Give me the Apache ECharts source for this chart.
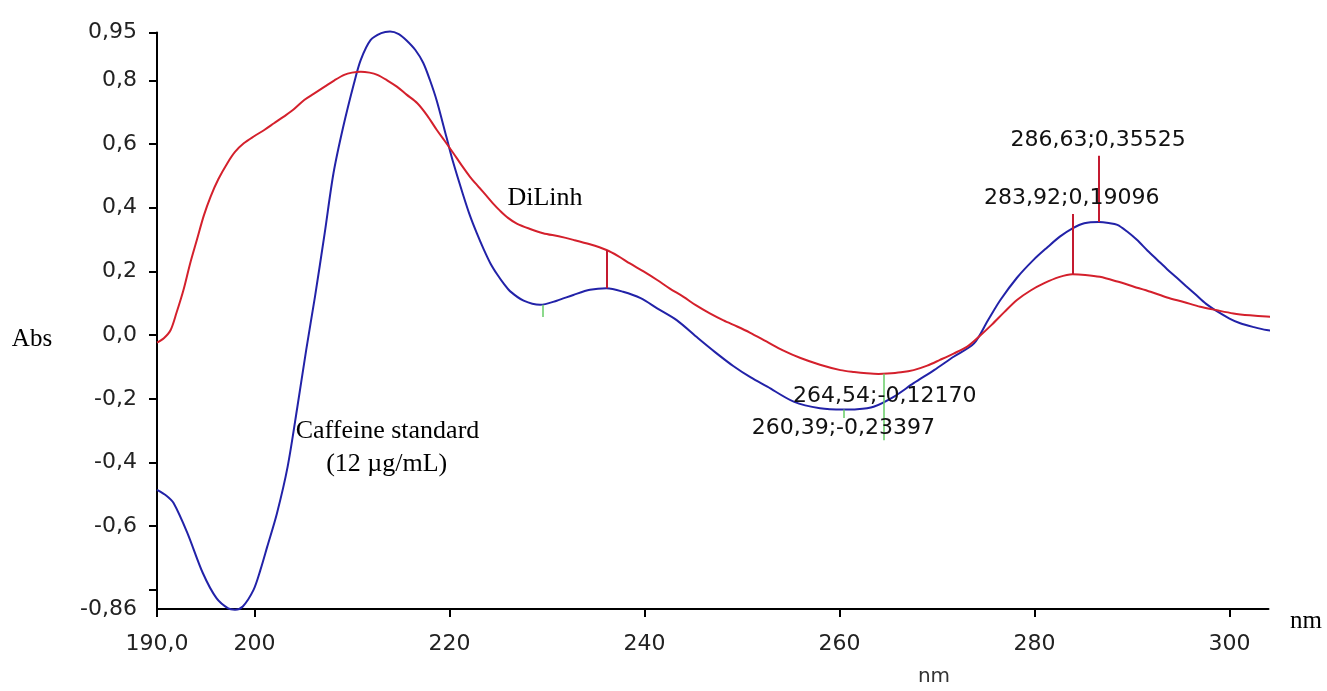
<!DOCTYPE html>
<html>
<head>
<meta charset="utf-8">
<script src="https://cdn.jsdelivr.net/npm/echarts@6/dist/echarts.min.js"></script>
<style>html,body{margin:0;padding:0;background:#fff}#c{width:1327px;height:691px}</style>
</head>
<body>
<div id="c"></div>
<script>
// ---- data (wavelength in nm, absorbance) ----
const caffeineNm = [190.0,191.0,191.7,193.1,194.7,196.1,197.3,198.0,198.8,199.9,200.6,201.3,202.3,203.4,204.4,205.3,206.2,207.2,208.1,209.1,210.2,210.9,211.9,213.0,213.9,214.8,215.6,216.5,217.3,218.0,218.7,219.7,220.4,221.4,222.1,222.8,223.5,224.2,224.9,225.6,226.2,227.6,229.3,231.0,232.7,234.4,236.1,237.8,239.6,241.3,243.3,245.5,247.3,249.1,250.9,252.6,255.3,258.0,260.4,261.8,263.5,265.6,267.6,269.7,271.7,273.8,275.2,276.5,278.2,279.9,281.3,282.6,283.9,285.1,286.6,287.6,288.5,289.5,290.5,291.6,292.6,293.6,294.6,295.5,296.5,297.6,298.7,300.0,301.1,302.5,303.8,305.3,306.9];
const caffeineAbs = [-0.486,-0.505,-0.527,-0.62,-0.747,-0.826,-0.858,-0.862,-0.852,-0.80,-0.738,-0.665,-0.56,-0.413,-0.225,-0.047,0.12,0.32,0.508,0.654,0.79,0.864,0.926,0.948,0.953,0.945,0.925,0.895,0.855,0.80,0.735,0.62,0.54,0.44,0.375,0.32,0.27,0.225,0.19,0.16,0.138,0.108,0.095,0.108,0.126,0.142,0.147,0.136,0.116,0.084,0.047,-0.01,-0.055,-0.097,-0.133,-0.162,-0.209,-0.23,-0.234,-0.233,-0.225,-0.193,-0.151,-0.11,-0.068,-0.026,0.045,0.11,0.18,0.236,0.275,0.309,0.335,0.351,0.355,0.352,0.346,0.325,0.299,0.265,0.236,0.207,0.18,0.155,0.128,0.098,0.075,0.052,0.037,0.025,0.016,0.01,0.006];

const dilinhNm = [190.0,190.7,191.4,192.0,192.7,193.4,194.1,194.8,195.5,196.3,197.2,198.0,198.9,200.0,201.0,202.0,203.0,204.0,205.1,206.1,207.2,208.2,209.2,210.0,210.9,211.8,212.6,213.6,214.6,215.6,216.7,217.7,218.7,219.5,220.4,221.2,222.1,223.0,223.8,224.5,225.2,226.0,226.9,228.2,229.6,231.2,232.7,234.4,236.1,237.3,238.5,239.9,241.3,242.6,244.0,245.3,246.7,248.1,249.5,250.8,252.5,254.2,256.0,258.0,260.1,261.5,262.8,264.0,264.9,266.3,267.6,269.0,270.3,271.7,273.1,274.3,275.6,276.9,278.2,279.6,281.0,282.5,283.9,285.2,286.7,288.5,290.2,291.9,293.6,295.3,297.0,298.7,300.4,302.1,303.8,305.4,306.9];
const dilinhAbs = [-0.024,-0.01,0.016,0.07,0.14,0.225,0.30,0.375,0.435,0.49,0.539,0.575,0.602,0.625,0.644,0.665,0.686,0.708,0.738,0.758,0.78,0.80,0.817,0.824,0.827,0.824,0.817,0.80,0.78,0.755,0.728,0.69,0.644,0.61,0.571,0.535,0.497,0.465,0.437,0.412,0.39,0.368,0.35,0.334,0.32,0.31,0.299,0.285,0.267,0.248,0.225,0.2,0.173,0.146,0.12,0.093,0.068,0.046,0.027,0.008,-0.02,-0.048,-0.072,-0.093,-0.11,-0.116,-0.12,-0.122,-0.121,-0.117,-0.11,-0.096,-0.078,-0.058,-0.036,-0.005,0.032,0.072,0.11,0.14,0.163,0.182,0.191,0.189,0.183,0.168,0.152,0.136,0.118,0.104,0.089,0.078,0.068,0.062,0.058,0.056,0.055];

// tick values and labels
const xTickValues = [190, 200, 220, 240, 260, 280, 300];
const xTickLabels = ['190,0', '200', '220', '240', '260', '280', '300'];
const yTickValues = [-0.86, -0.6, -0.4, -0.2, 0, 0.2, 0.4, 0.6, 0.8, 0.95];
const yTickLabels = ['-0,86', '-0,6', '-0,4', '-0,2', '0,0', '0,2', '0,4', '0,6', '0,8', '0,95'];
const yTickMarks = [-0.8, -0.6, -0.4, -0.2, 0, 0.2, 0.4, 0.6, 0.8, 0.95];

// peak/valley readouts (nm, Abs)
const caffeinePeak = [286.63, 0.35525];
const caffeineValley = [260.39, -0.23397];
const dilinhPeak = [283.92, 0.19096];
const dilinhValley = [264.54, -0.12170];
// marker segments: [nm, from Abs, to Abs]
const redMarkers = [[236.1, 0.267, 0.147], [283.92, 0.19096, 0.38], [286.63, 0.35525, 0.563]];
const greenMarkers = [[229.6, 0.095, 0.057], [264.54, -0.1217, -0.33], [260.39, -0.23397, -0.26]];

// ---- chart ----
const fmt = (p) => p[0].toFixed(2).replace('.', ',') + ';' + p[1].toFixed(5).replace('.', ',');
const zip = (xs, ys) => xs.map((x, i) => [x, ys[i]]);
const seg = (m) => [{coord: [m[0], m[1]]}, {coord: [m[0], m[2]]}];
const tickFont = 'DejaVu Sans';
const serif = '"Liberation Serif", "Times New Roman", serif';

const chart = echarts.init(document.getElementById('c'), null, {renderer: 'canvas'});
const ptLabel = (p, off) => ({
  coord: p, symbol: 'circle', symbolSize: 0,
  label: {show: true, position: 'inside', offset: off, formatter: fmt(p),
    color: '#111', fontFamily: tickFont, fontSize: 22}
});

chart.setOption({
  animation: false,
  backgroundColor: '#fff',
  grid: {left: 157, top: 32.5, bottom: 82, right: 58.5},
  xAxis: {
    type: 'value', min: 190, max: 304,
    axisLine: {onZero: false, lineStyle: {color: '#000', width: 2}},
    axisTick: {show: true, length: 8, lineStyle: {color: '#000', width: 2}, customValues: xTickValues},
    axisLabel: {customValues: xTickValues, margin: 24, fontFamily: tickFont, fontSize: 22, color: '#222',
      formatter: (v) => { const i = xTickValues.indexOf(v); return i >= 0 ? xTickLabels[i] : ''; }},
    splitLine: {show: false}
  },
  yAxis: {
    type: 'value', min: -0.86, max: 0.95,
    axisLine: {onZero: false, lineStyle: {color: '#000', width: 2}},
    axisTick: {show: true, length: 8, lineStyle: {color: '#000', width: 2}, customValues: yTickMarks},
    axisLabel: {customValues: yTickValues, margin: 20, fontFamily: tickFont, fontSize: 22, color: '#222',
      padding: [0, 0, 12, 0],
      formatter: (v) => { const i = yTickValues.findIndex(t => Math.abs(t - v) < 1e-9); return i >= 0 ? yTickLabels[i] : ''; }},
    splitLine: {show: false}
  },
  series: [
    {
      name: 'DiLinh', type: 'line', data: zip(dilinhNm, dilinhAbs), showSymbol: false, smooth: 0.3, clip: false,
      lineStyle: {color: '#d4202c', width: 2}, z: 3,
      markLine: {silent: true, symbol: ['none', 'none'], label: {show: false},
        lineStyle: {color: '#c41a30', width: 2, type: 'solid'}, data: redMarkers.map(seg)},
      markPoint: {data: [ptLabel(dilinhPeak, [-1, -76]), ptLabel(dilinhValley, [1, 22])]}
    },
    {
      name: 'Caffeine standard', type: 'line', data: zip(caffeineNm, caffeineAbs), showSymbol: false, smooth: 0.3, clip: false,
      lineStyle: {color: '#2222a8', width: 2}, z: 2,
      markLine: {silent: true, symbol: ['none', 'none'], label: {show: false},
        lineStyle: {color: '#66cc66', width: 1.5, type: 'solid'}, data: greenMarkers.map(seg)},
      markPoint: {data: [ptLabel(caffeinePeak, [-1, -82]), ptLabel(caffeineValley, [0, 19])]}
    }
  ],
  graphic: [
    {type: 'text', x: 545, y: 198, style: {text: 'DiLinh', font: '26px ' + serif, fill: '#000', align: 'center', verticalAlign: 'middle'}},
    {type: 'text', x: 387.5, y: 431, style: {text: 'Caffeine standard', font: '26px ' + serif, fill: '#000', align: 'center', verticalAlign: 'middle'}},
    {type: 'text', x: 386.7, y: 464, style: {text: '(12 µg/mL)', font: '26px ' + serif, fill: '#000', align: 'center', verticalAlign: 'middle'}},
    {type: 'text', x: 32, y: 339, style: {text: 'Abs', font: '25px ' + serif, fill: '#000', align: 'center', verticalAlign: 'middle'}},
    {type: 'text', x: 1306, y: 621, style: {text: 'nm', font: '25px ' + serif, fill: '#000', align: 'center', verticalAlign: 'middle'}},
    {type: 'text', x: 934, y: 677, style: {text: 'nm', font: '20px "DejaVu Sans"', fill: '#333', align: 'center', verticalAlign: 'middle'}}
  ]
});
</script>
</body>
</html>
